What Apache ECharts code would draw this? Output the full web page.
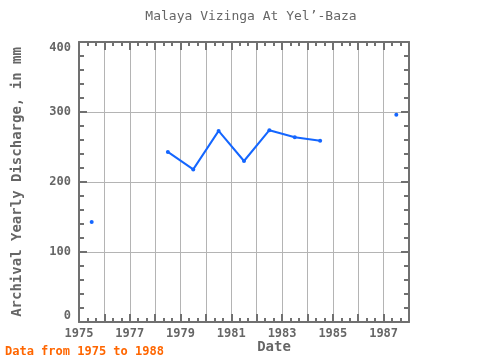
<!DOCTYPE html>
<html><head><meta charset="utf-8">
<script src="https://cdn.jsdelivr.net/npm/echarts@6/dist/echarts.min.js"></script>
<style>html,body{margin:0;padding:0;background:#fff}#c{width:480px;height:360px}</style>
</head><body><div id="c"></div>
<script>
// Data (yearly values, plotted at mid-year)
const years = [1975, 1976, 1977, 1978, 1979, 1980, 1981, 1982, 1983, 1984, 1985, 1986, 1987];
const discharge = [143, '-', '-', 243, 218, 273, 230, 274, 264, 259, '-', '-', 296];
const xLabelYears = [1975, 1977, 1979, 1981, 1983, 1985, 1987];
const yTicks = [0, 100, 200, 300, 400];

const titleText = 'Malaya Vizinga At Yel\u2019-Baza';
const yName = 'Archival Yearly Discharge, in mm';
const xName = 'Date';
const footer = 'Data from 1975 to 1988';

const FONT = 'DejaVu Sans Mono';
const AX = '#707070', GRID = '#b4b4b4', TXT = '#666666';

const seriesData = years.map((y, i) => [y + 0.5, discharge[i]]);

const baseX = {
  type: 'value', min: 1975, max: 1988, interval: 1,
  axisLine: {show: true, onZero: false, lineStyle: {color: AX, width: 2}},
  axisTick: {show: true, inside: true, length: 8, lineStyle: {color: AX, width: 2}},
  minorTick: {show: true, splitNumber: 3, length: 4, lineStyle: {color: AX, width: 2}},
};
const baseY = {
  type: 'value', min: 0, max: 400, interval: 100,
  axisLine: {show: true, onZero: false, lineStyle: {color: AX, width: 2}},
  axisTick: {show: true, inside: true, length: 8, lineStyle: {color: AX, width: 2}},
  minorTick: {show: true, splitNumber: 5, length: 5, lineStyle: {color: AX, width: 2}},
};

const chart = echarts.init(document.getElementById('c'), null, {renderer: 'canvas'});
chart.setOption({
  animation: false,
  backgroundColor: '#ffffff',
  grid: {left: 79, right: 71, top: 42, bottom: 38, containLabel: false},
  xAxis: [
    Object.assign({}, baseX, {
      position: 'bottom',
      splitLine: {show: true, lineStyle: {color: GRID, width: 1}},
      axisLabel: {
        show: true, margin: 6, color: TXT, fontFamily: FONT, fontSize: 12, fontWeight: 'bold',
        formatter: v => xLabelYears.indexOf(Math.round(v)) >= 0 && Math.abs(v - Math.round(v)) < 1e-6 ? String(Math.round(v)) : ''
      }
    }),
    Object.assign({}, baseX, {
      position: 'top', splitLine: {show: false}, axisLabel: {show: false}
    })
  ],
  yAxis: [
    Object.assign({}, baseY, {
      position: 'left',
      splitLine: {show: true, lineStyle: {color: GRID, width: 1}},
      name: yName, nameLocation: 'middle', nameGap: 55,
      nameTextStyle: {color: TXT, fontFamily: FONT, fontSize: 14, fontWeight: 'bold'},
      axisLabel: {
        show: true, margin: 8, color: TXT, fontFamily: FONT, fontSize: 12, fontWeight: 'bold',
        verticalAlignMinLabel: 'bottom', verticalAlignMaxLabel: 'top',
        formatter: v => yTicks.indexOf(v) >= 0 ? String(v) : ''
      }
    }),
    Object.assign({}, baseY, {
      position: 'right', splitLine: {show: false}, axisLabel: {show: false}
    })
  ],
  series: [{
    type: 'line',
    data: seriesData,
    xAxisIndex: 0, yAxisIndex: 0,
    connectNulls: false,
    showSymbol: true, showAllSymbol: true,
    symbol: 'circle', symbolSize: 4,
    lineStyle: {color: '#1466ff', width: 2},
    itemStyle: {color: '#1466ff'},
    z: 5
  }],
  graphic: [
    {type: 'text', x: 251, y: 17, style: {text: titleText, textAlign: 'center', textVerticalAlign: 'middle', fill: TXT, font: '13px "DejaVu Sans Mono"'}},
    {type: 'text', x: 274, y: 347, style: {text: xName, textAlign: 'center', textVerticalAlign: 'middle', fill: TXT, font: 'bold 14px "DejaVu Sans Mono"'}},
    {type: 'text', x: 5, y: 352, style: {text: footer, textAlign: 'left', textVerticalAlign: 'middle', fill: '#ff6600', font: 'bold 12px "DejaVu Sans Mono"'}}
  ]
});
</script></body></html>
